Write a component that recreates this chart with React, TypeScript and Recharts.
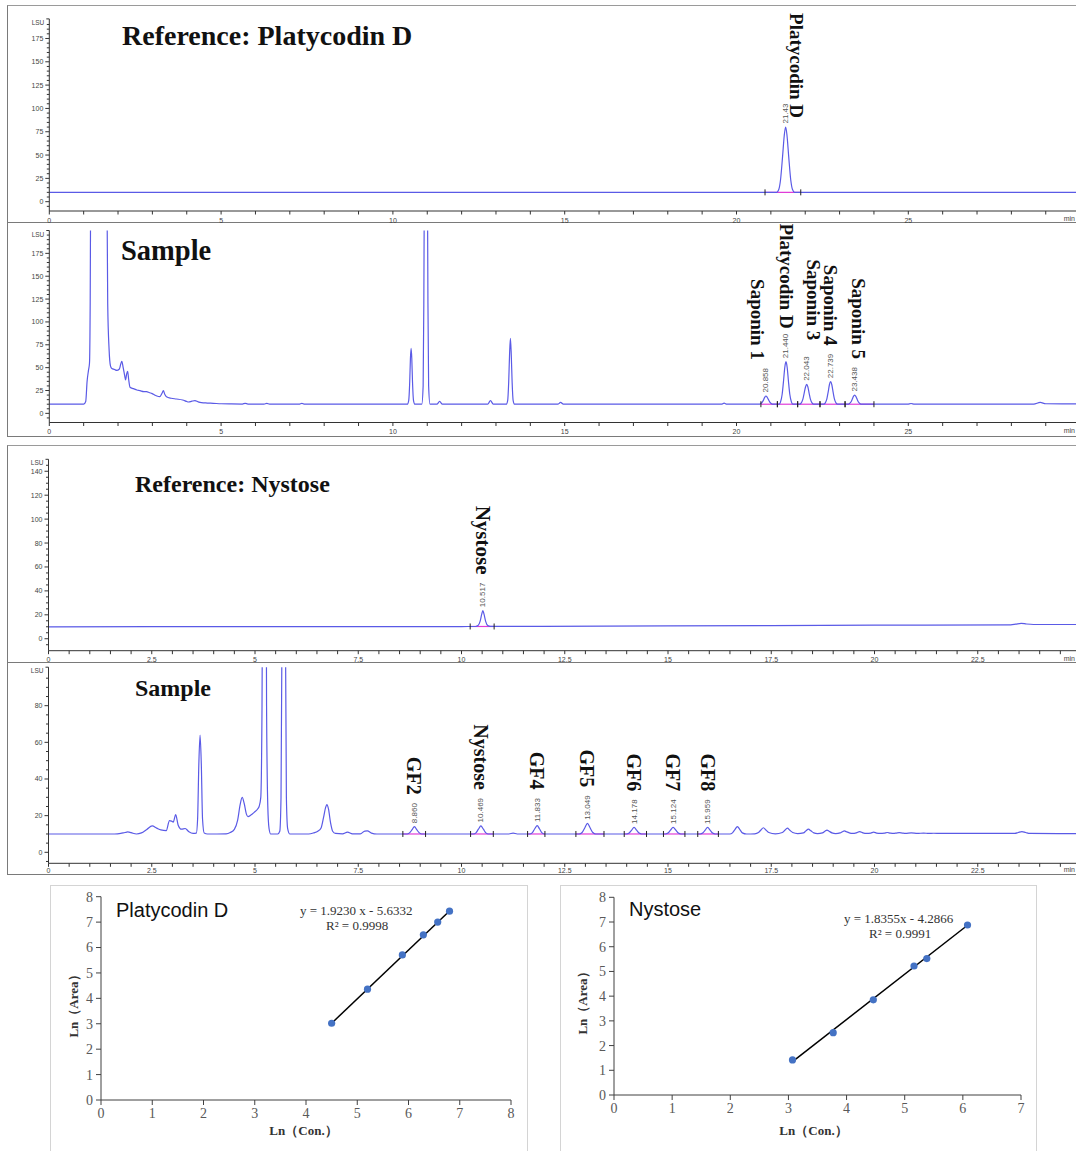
import React from 'react';
import {
  LineChart,
  Line,
  XAxis,
  YAxis,
  ReferenceLine,
  ReferenceDot,
  ScatterChart,
  Scatter,
} from 'recharts';

type Pt = [number, number];
type Seg = [number, number, number];

const TRACE = '#5a5ae6';
const PINK = '#e03cd8';
const AXIS = '#333333';
const SANS = '"Liberation Sans", Arial, sans-serif';
const SERIF = '"Liberation Serif", "Times New Roman", serif';

// ---------------- Panel A: Reference Platycodin D ----------------
const pdRefTrace: Pt[] = [
  [0, 10], [21.17, 10], [21.23, 13], [21.28, 23], [21.34, 48], [21.39, 71], [21.43, 80],
  [21.47, 71], [21.52, 48], [21.58, 23], [21.63, 13], [21.69, 10], [30, 10],
];
const pdRefRt = ['21.43'];
const pdRefApex = [80];
const pdRefNames = ['Platycodin D'];
const pdRefBaselines: Seg[] = [[20.83, 21.87, 10]];

// ---------------- Panel B: Sample (saponins) ----------------
const pdSampleTrace: Pt[] = [
  [0, 10], [1.0, 10], [1.06, 13], [1.1, 35], [1.14, 47], [1.17, 55], [1.19, 120], [1.21, 300],
  [1.45, 900], [1.67, 300], [1.7, 120], [1.74, 70], [1.78, 52], [1.82, 49], [1.9, 48], [1.96, 47],
  [2.04, 48.5], [2.08, 54], [2.11, 57], [2.15, 50], [2.19, 42], [2.22, 36.5], [2.25, 43], [2.28, 46],
  [2.31, 37], [2.35, 28.5], [2.45, 27], [2.55, 25.5], [2.64, 24.8], [2.75, 23.8], [2.83, 23.7],
  [2.92, 22.5], [2.98, 21.9], [3.1, 19.5], [3.22, 18.2], [3.28, 22], [3.32, 24.8], [3.36, 21],
  [3.41, 18.2], [3.55, 16.5], [3.7, 15.7], [3.88, 14.6], [4.0, 13], [4.05, 12.4], [4.15, 13.3],
  [4.24, 13.9], [4.33, 12.6], [4.43, 11.7], [4.6, 11.3], [4.77, 11], [5.0, 10.5], [5.3, 10.3],
  [5.62, 10.2], [5.7, 11], [5.78, 10.2], [6.25, 10.1], [6.33, 11], [6.41, 10.1], [7.27, 10],
  [7.35, 11], [7.43, 10], [10.42, 10], [10.46, 14], [10.49, 35], [10.51, 60], [10.53, 71],
  [10.55, 60], [10.57, 35], [10.6, 14], [10.64, 10], [10.84, 10], [10.88, 30], [10.9, 120],
  [10.92, 300], [10.96, 600], [11.0, 300], [11.02, 120], [11.04, 30], [11.08, 10], [11.28, 10],
  [11.36, 13], [11.44, 10], [12.76, 10], [12.84, 14], [12.92, 10], [13.3, 10], [13.34, 14],
  [13.37, 34], [13.395, 64], [13.42, 82], [13.445, 64], [13.47, 34], [13.5, 14], [13.54, 10],
  [14.8, 10], [14.88, 12], [14.96, 10], [19.56, 10], [19.64, 11.2], [19.72, 10],
  [20.66, 10], [20.7, 10.5], [20.75, 12.2], [20.79, 15], [20.825, 17.8], [20.858, 19], [20.89, 17.8],
  [20.93, 15], [20.97, 12.2], [21.02, 10.5], [21.06, 10],
  [21.24, 10], [21.28, 12.3], [21.33, 21.2], [21.37, 36], [21.405, 50.2], [21.44, 56.5],
  [21.475, 50.2], [21.51, 36], [21.55, 21.2], [21.6, 12.3], [21.64, 10],
  [21.84, 10], [21.88, 11.1], [21.93, 15.2], [21.97, 22.2], [22.008, 28.8], [22.043, 31.7],
  [22.078, 28.8], [22.113, 22.2], [22.153, 15.2], [22.203, 11.1], [22.243, 10],
  [22.54, 10], [22.58, 11.2], [22.63, 15.9], [22.67, 23.8], [22.704, 31.3], [22.739, 34.6],
  [22.774, 31.3], [22.809, 23.8], [22.849, 15.9], [22.899, 11.2], [22.94, 10],
  [23.24, 10], [23.28, 10.5], [23.33, 12.4], [23.37, 15.6], [23.403, 18.6], [23.438, 20],
  [23.473, 18.6], [23.508, 15.6], [23.548, 12.4], [23.598, 10.5], [23.64, 10],
  [24.98, 10], [25.08, 10.8], [25.18, 10], [28.65, 10.2], [28.84, 12], [29.0, 10.5], [30, 10.4],
];
const pdSampleRt = ['20.858', '21.440', '22.043', '22.739', '23.438'];
const pdSampleApex = [19, 56.5, 31.7, 34.6, 20];
const pdSampleNames = ['Saponin 1', 'Platycodin D', 'Saponin 3', 'Saponin 4', 'Saponin 5'];
const pdSampleBaselines: Seg[] = [
  [20.71, 21.19, 10], [21.19, 21.78, 10], [21.78, 22.43, 10], [22.43, 23.16, 10], [23.16, 24.0, 10],
];

// ---------------- Panel C: Reference Nystose ----------------
const nyRefTrace: Pt[] = [
  [0, 10], [5, 10.1], [10, 10.2], [10.34, 10.25], [10.4, 11], [10.45, 14.5], [10.49, 20.5],
  [10.517, 23.5], [10.545, 20.5], [10.585, 14.5], [10.635, 11], [10.7, 10.3], [15, 10.7],
  [20, 11.3], [23.3, 11.6], [23.42, 12.2], [23.55, 12.9], [23.68, 12.3], [23.85, 11.9], [25, 11.9],
];
const nyRefRt = ['10.517'];
const nyRefApex = [23.5];
const nyRefNames = ['Nystose'];
const nyRefBaselines: Seg[] = [[10.21, 10.79, 10.25]];

// ---------------- Panel D: Sample (fructo-oligosaccharides) ----------------
const nySampleTrace: Pt[] = [
  [0, 10], [1.6, 10], [1.75, 10.3], [1.85, 10.8], [1.92, 11.1], [2.0, 10.7], [2.13, 10],
  [2.25, 10.6], [2.38, 12.5], [2.51, 14.4], [2.62, 13.2], [2.72, 12.2], [2.85, 11.8], [2.93, 17.3],
  [2.98, 17], [3.02, 16.5], [3.08, 20.6], [3.14, 14.8], [3.22, 12.6], [3.31, 13], [3.4, 11.2],
  [3.5, 10.3], [3.58, 10.5], [3.61, 18], [3.64, 48], [3.67, 64], [3.7, 48], [3.73, 18], [3.77, 10.5],
  [3.85, 10], [4.3, 10.1], [4.4, 10.8], [4.5, 12.5], [4.58, 17.5], [4.64, 26], [4.69, 30], [4.74, 26.5],
  [4.79, 21], [4.83, 19.5], [4.9, 20.3], [4.98, 21.8], [5.06, 23.5], [5.1, 25], [5.14, 30], [5.17, 80],
  [5.2, 250], [5.23, 400], [5.26, 250], [5.28, 80], [5.31, 25], [5.34, 13], [5.38, 10], [5.55, 10],
  [5.6, 11.5], [5.63, 30], [5.66, 150], [5.7, 400], [5.73, 150], [5.76, 30], [5.79, 13], [5.84, 10],
  [6.3, 10], [6.42, 10.6], [6.52, 11.5], [6.6, 13.3], [6.66, 19], [6.71, 24.5], [6.74, 26], [6.78, 23.5],
  [6.83, 16], [6.88, 11.5], [6.95, 10.3], [7.12, 10.1], [7.24, 11], [7.36, 10.1], [7.55, 10.1],
  [7.66, 11.6], [7.72, 11.7], [7.82, 10.5], [7.95, 10],
  [8.68, 10], [8.74, 10.6], [8.8, 12.2], [8.86, 14], [8.92, 12.2], [8.98, 10.6], [9.04, 10],
  [10.29, 10], [10.35, 10.6], [10.41, 12.6], [10.469, 14.4], [10.53, 12.6], [10.59, 10.6], [10.65, 10],
  [11.15, 10], [11.25, 10.5], [11.35, 10],
  [11.65, 10], [11.71, 10.6], [11.77, 12.7], [11.833, 14.6], [11.89, 12.7], [11.95, 10.6], [12.01, 10],
  [12.85, 10], [12.92, 10.8], [12.99, 13.5], [13.049, 15.8], [13.11, 13.5], [13.18, 10.8], [13.25, 10],
  [14.0, 10], [14.06, 10.5], [14.12, 12.1], [14.178, 13.6], [14.24, 12.1], [14.3, 10.5], [14.36, 10],
  [14.94, 10], [15.0, 10.5], [15.06, 12.1], [15.124, 13.6], [15.19, 12.1], [15.25, 10.5], [15.31, 10],
  [15.78, 10], [15.84, 10.5], [15.9, 12.1], [15.959, 13.6], [16.02, 12.1], [16.08, 10.5], [16.14, 10],
  [16.5, 10], [16.56, 10.6], [16.62, 12.4], [16.68, 14], [16.74, 12.4], [16.8, 10.6], [16.9, 10],
  [17.1, 10.1], [17.19, 10.8], [17.25, 12.2], [17.31, 13.4], [17.37, 12.2], [17.44, 10.8], [17.6, 10.1],
  [17.77, 10.8], [17.83, 12], [17.89, 13.2], [17.95, 12], [18.02, 10.8], [18.14, 10.2],
  [18.28, 10.6], [18.34, 11.7], [18.4, 12.6], [18.46, 11.7], [18.53, 10.6], [18.62, 10.2],
  [18.74, 10.6], [18.8, 11.5], [18.85, 12.1], [18.9, 11.5], [18.97, 10.6], [19.06, 10.2],
  [19.17, 10.6], [19.22, 11.2], [19.27, 11.7], [19.32, 11.2], [19.39, 10.6], [19.46, 10.3],
  [19.56, 10.6], [19.64, 11.3], [19.72, 10.6], [19.81, 10.3], [19.91, 10.5], [19.98, 11],
  [20.05, 10.5], [20.14, 10.3], [20.24, 10.5], [20.31, 10.8], [20.38, 10.5], [20.46, 10.3],
  [20.53, 10.5], [20.6, 10.7], [20.67, 10.5], [20.75, 10.3], [20.89, 10.6], [21.04, 10.3],
  [21.19, 10.5], [21.31, 10.3], [21.43, 10.4], [21.6, 10.3], [23.4, 10.3], [23.48, 10.8],
  [23.57, 11.3], [23.66, 10.8], [23.76, 10.3], [25, 10.2],
];
const nySampleRt = ['8.860', '10.469', '11.833', '13.049', '14.178', '15.124', '15.959'];
const nySampleApex = [14, 14.4, 14.6, 15.8, 13.6, 13.6, 13.6];
const nySampleNames = ['GF2', 'Nystose', 'GF4', 'GF5', 'GF6', 'GF7', 'GF8'];
const nySampleBaselines: Seg[] = [
  [8.58, 9.13, 10], [10.22, 10.77, 10], [11.6, 12.02, 10], [12.77, 13.45, 10],
  [13.94, 14.48, 10], [14.89, 15.41, 10], [15.72, 16.22, 10],
];

// ---------------- Axis ticks ----------------
const minuteTicks30 = Array.from({ length: 31 }, (_, i) => i);
const minuteLabels30 = [0, 5, 10, 15, 20, 25];
const minuteTicks25 = Array.from({ length: 51 }, (_, i) => i * 0.5);
const minuteLabels25 = [0, 2.5, 5, 7.5, 10, 12.5, 15, 17.5, 20, 22.5];
const lsuTicksA = [...Array.from({ length: 40 }, (_, i) => -5 + i * 5), 196];
const lsuTicksB = [...Array.from({ length: 41 }, (_, i) => -5 + i * 5), 200];
const lsuLabelsAB = [0, 25, 50, 75, 100, 125, 150, 175];
const lsuTicksC = [...Array.from({ length: 31 }, (_, i) => -5 + i * 5), 150];
const lsuLabelsC = [0, 20, 40, 60, 80, 100, 120, 140];
const lsuTicksD = [...Array.from({ length: 21 }, (_, i) => -5 + i * 5), 101];
const lsuLabelsD = [0, 20, 40, 60, 80];

// ---------------- Calibration curves ----------------
const pdLnCon = [4.5, 5.2, 5.88, 6.29, 6.57, 6.8];
const pdLnArea = [3.02, 4.36, 5.71, 6.5, 7.0, 7.43];
const pdFit: Pt[] = [[4.5, 3.02], [6.8, 7.44]];
const nyLnCon = [3.07, 3.77, 4.46, 5.16, 5.38, 6.08];
const nyLnArea = [1.42, 2.52, 3.85, 5.22, 5.52, 6.88];
const nyFit: Pt[] = [[3.07, 1.35], [6.08, 6.87]];
const calibTicks8 = [0, 1, 2, 3, 4, 5, 6, 7, 8];
const calibTicks7 = [0, 1, 2, 3, 4, 5, 6, 7];

// ---------------- helpers ----------------
const rows = (pts: Pt[]) => pts.map(([t, v]) => ({ t, v }));

function makeXTick(majors: number[], labelDy: number) {
  return (props: any) => {
    const { x, y, payload } = props;
    const v = payload.value as number;
    const major = majors.some((m) => Math.abs(m - v) < 1e-6);
    return (
      <g>
        <line x1={x} x2={x} y1={y} y2={y + 3.5} stroke={AXIS} strokeWidth={1} />
        {major && (
          <text x={x} y={y + labelDy} textAnchor="middle" fontSize={7} fill="#444" fontFamily={SANS}>
            {String(v)}
          </text>
        )}
      </g>
    );
  };
}

function makeYTick(majors: number[], top: number) {
  return (props: any) => {
    const { x, y, payload } = props;
    const v = payload.value as number;
    if (v === top) {
      return (
        <g>
          <line x1={x - 3} x2={x} y1={y} y2={y} stroke={AXIS} strokeWidth={1} />
          <text x={x - 5} y={y + 6} textAnchor="end" fontSize={6.5} fill="#444" fontFamily={SANS}>
            LSU
          </text>
        </g>
      );
    }
    const major = majors.includes(v);
    return (
      <g>
        <line x1={x - (major ? 4 : 2.5)} x2={x} y1={y} y2={y} stroke={AXIS} strokeWidth={1} />
        {major && (
          <text x={x - 6} y={y + 2.5} textAnchor="end" fontSize={7} fill="#444" fontFamily={SANS}>
            {v}
          </text>
        )}
      </g>
    );
  };
}

function makePeakLabel(rt: string, name: string, size: number, dx: number, dy: number) {
  return (props: any) => {
    const { cx, cy } = props;
    const rtY = cy - 3.5;
    const nameY = rtY - rt.length * 4.1 - 8 + dy;
    return (
      <g>
        <text
          transform={`translate(${cx},${rtY}) rotate(-90)`}
          fontSize={8}
          fill="#555"
          fontFamily={SANS}
          dominantBaseline="central"
        >
          {rt}
        </text>
        <text
          transform={`translate(${cx + dx},${nameY}) rotate(90)`}
          textAnchor="end"
          dominantBaseline="central"
          fontSize={size}
          fontWeight="bold"
          fill="#111"
          fontFamily={SERIF}
        >
          {name}
        </text>
      </g>
    );
  };
}

const baselineTick = (props: any) => (
  <line x1={props.cx} x2={props.cx} y1={props.cy - 3} y2={props.cy + 3} stroke="#222" strokeWidth={1} />
);

type ChromProps = {
  top: number;
  height: number;
  margin: { top: number; right: number; bottom: number; left: number };
  xMax: number;
  xTicks: number[];
  xLabels: number[];
  xAxisHeight: number;
  labelDy: number;
  yDomain: [number, number];
  yTicks: number[];
  yLabels: number[];
  trace: Pt[];
  rts: string[];
  apexes: number[];
  names: string[];
  nameSize: number;
  nudges?: Record<string, [number, number]>;
  baselines: Seg[];
};

function Chromatogram(p: ChromProps) {
  const data = rows(p.trace);
  return (
    <div style={{ position: 'absolute', left: 0, top: p.top }}>
      <LineChart width={1090} height={p.height} data={data} margin={p.margin} style={{ overflow: 'visible' }}>
        <XAxis
          dataKey="t"
          type="number"
          domain={[0, p.xMax]}
          allowDataOverflow
          ticks={p.xTicks}
          interval={0}
          tickLine={false}
          tickSize={0}
          tickMargin={0}
          height={p.xAxisHeight}
          stroke={AXIS}
          tick={makeXTick(p.xLabels, p.labelDy)}
        />
        <YAxis
          type="number"
          domain={p.yDomain}
          allowDataOverflow
          ticks={p.yTicks}
          interval={0}
          tickLine={false}
          tickSize={0}
          tickMargin={0}
          width={40}
          stroke={AXIS}
          tick={makeYTick(p.yLabels, p.yDomain[1])}
        />
        {p.baselines.map(([a, b, l], i) => (
          <ReferenceLine
            key={`bl${i}`}
            segment={[{ x: a, y: l }, { x: b, y: l }]}
            stroke={PINK}
            strokeWidth={1.2}
            ifOverflow="visible"
          />
        ))}
        <Line
          dataKey="v"
          type="monotone"
          dot={false}
          stroke={TRACE}
          strokeWidth={1.2}
          isAnimationActive={false}
        />
        {p.baselines.map(([a, b, l], i) => (
          <ReferenceDot key={`ta${i}`} x={a} y={l} r={0} shape={baselineTick} ifOverflow="visible" />
        ))}
        {p.baselines.map(([a, b, l], i) => (
          <ReferenceDot key={`tb${i}`} x={b} y={l} r={0} shape={baselineTick} ifOverflow="visible" />
        ))}
        {p.rts.map((rt, i) => {
          const n = (p.nudges && p.nudges[p.names[i]]) || [0, 0];
          return (
            <ReferenceDot
              key={`pk${i}`}
              x={parseFloat(rt)}
              y={p.apexes[i]}
              r={0}
              ifOverflow="visible"
              shape={makePeakLabel(rt, p.names[i], p.nameSize, n[0], n[1])}
            />
          );
        })}
      </LineChart>
    </div>
  );
}

const calibDot = (props: any) => <circle cx={props.cx} cy={props.cy} r={3.6} fill="#4472C4" />;

type CalibProps = {
  left: number;
  width: number;
  margin: { top: number; right: number; bottom: number; left: number };
  xMax: number;
  xTicks: number[];
  xs: number[];
  ys: number[];
  fit: Pt[];
};

function Calibration(p: CalibProps) {
  const pts = p.xs.map((x, i) => ({ x, y: p.ys[i] }));
  const tickStyle = { fontSize: 14, fill: '#595959', fontFamily: SERIF };
  return (
    <div style={{ position: 'absolute', left: p.left, top: 885 }}>
      <ScatterChart width={p.width} height={266} margin={p.margin}>
        <XAxis
          type="number"
          dataKey="x"
          domain={[0, p.xMax]}
          ticks={p.xTicks}
          interval={0}
          tick={tickStyle}
          tickSize={5}
          tickMargin={3}
          stroke="#404040"
          height={30}
        />
        <YAxis
          type="number"
          dataKey="y"
          domain={[0, 8]}
          ticks={calibTicks8}
          interval={0}
          tick={tickStyle}
          tickSize={5}
          tickMargin={3}
          stroke="#404040"
          width={30}
        />
        <ReferenceLine
          segment={[{ x: p.fit[0][0], y: p.fit[0][1] }, { x: p.fit[1][0], y: p.fit[1][1] }]}
          stroke="#000"
          strokeWidth={1.5}
          ifOverflow="visible"
        />
        <Scatter data={pts} shape={calibDot} isAnimationActive={false} />
      </ScatterChart>
    </div>
  );
}

const frame = (extra: React.CSSProperties): React.CSSProperties => ({
  position: 'absolute',
  boxSizing: 'border-box',
  ...extra,
});

export default function App() {
  const sideLine = '1.5px solid #7a7a7a';
  return (
    <div
      style={{
        position: 'absolute',
        left: 0,
        top: 0,
        width: 1076,
        height: 1151,
        overflow: 'hidden',
        background: '#fff',
      }}
    >
      {/* panel frames */}
      <div style={frame({ left: 7, top: 5, width: 1080, height: 218, borderTop: '1px solid #9a9a9a', borderLeft: sideLine, borderBottom: sideLine })} />
      <div style={frame({ left: 7, top: 223, width: 1080, height: 214, borderLeft: sideLine, borderBottom: sideLine })} />
      <div style={frame({ left: 7, top: 445, width: 1080, height: 218, borderTop: '1px solid #9a9a9a', borderLeft: sideLine, borderBottom: sideLine })} />
      <div style={frame({ left: 7, top: 663, width: 1080, height: 212, borderLeft: sideLine, borderBottom: sideLine })} />
      <div style={frame({ left: 50, top: 885, width: 478, height: 290, border: '1px solid #d4d4d4' })} />
      <div style={frame({ left: 560, top: 885, width: 477, height: 290, border: '1px solid #d4d4d4' })} />

      <Chromatogram
        top={0}
        height={225}
        margin={{ top: 18.9, right: 9.9, bottom: 2, left: 9.3 }}
        xMax={30}
        xTicks={minuteTicks30}
        xLabels={minuteLabels30}
        xAxisHeight={12}
        labelDy={11.5}
        yDomain={[-10, 196]}
        yTicks={lsuTicksA}
        yLabels={lsuLabelsAB}
        trace={pdRefTrace}
        rts={pdRefRt}
        apexes={pdRefApex}
        names={pdRefNames}
        nameSize={19}
        nudges={{ 'Platycodin D': [10.5, 23] }}
        baselines={pdRefBaselines}
      />
      <Chromatogram
        top={224}
        height={213}
        margin={{ top: 6.5, right: 9.9, bottom: 2.5, left: 9.3 }}
        xMax={30}
        xTicks={minuteTicks30}
        xLabels={minuteLabels30}
        xAxisHeight={12}
        labelDy={11.5}
        yDomain={[-10, 200]}
        yTicks={lsuTicksB}
        yLabels={lsuLabelsAB}
        trace={pdSampleTrace}
        rts={pdSampleRt}
        apexes={pdSampleApex}
        names={pdSampleNames}
        nameSize={19}
        nudges={{
          'Saponin 1': [-8, 0],
          'Platycodin D': [0.5, 3],
          'Saponin 3': [7, -8],
          'Saponin 5': [4, 0],
        }}
        baselines={pdSampleBaselines}
      />
      <Chromatogram
        top={445}
        height={217}
        margin={{ top: 14.3, right: 9, bottom: 2.3, left: 8.5 }}
        xMax={25}
        xTicks={minuteTicks25}
        xLabels={minuteLabels25}
        xAxisHeight={9}
        labelDy={11.5}
        yDomain={[-10, 150]}
        yTicks={lsuTicksC}
        yLabels={lsuLabelsC}
        trace={nyRefTrace}
        rts={nyRefRt}
        apexes={nyRefApex}
        names={nyRefNames}
        nameSize={21}
        baselines={nyRefBaselines}
      />
      <Chromatogram
        top={663}
        height={211}
        margin={{ top: 4.2, right: 9, bottom: 1.7, left: 8.5 }}
        xMax={25}
        xTicks={minuteTicks25}
        xLabels={minuteLabels25}
        xAxisHeight={9}
        labelDy={10}
        yDomain={[-6, 101]}
        yTicks={lsuTicksD}
        yLabels={lsuLabelsD}
        trace={nySampleTrace}
        rts={nySampleRt}
        apexes={nySampleApex}
        names={nySampleNames}
        nameSize={20}
        baselines={nySampleBaselines}
      />

      <Calibration
        left={50}
        width={478}
        margin={{ top: 11.7, right: 17, bottom: 21, left: 21 }}
        xMax={8}
        xTicks={calibTicks8}
        xs={pdLnCon}
        ys={pdLnArea}
        fit={pdFit}
      />
      <Calibration
        left={560}
        width={477}
        margin={{ top: 12.3, right: 16, bottom: 26, left: 24 }}
        xMax={7}
        xTicks={calibTicks7}
        xs={nyLnCon}
        ys={nyLnArea}
        fit={nyFit}
      />

      {/* overlay texts */}
      <svg
        width={1076}
        height={1151}
        style={{ position: 'absolute', left: 0, top: 0, pointerEvents: 'none' }}
      >
        <g fontFamily={SERIF} fontWeight="bold" fill="#111">
          <text x={122} y={45} fontSize={28}>Reference: Platycodin D</text>
          <text x={121} y={260} fontSize={28.5}>Sample</text>
          <text x={135} y={491.5} fontSize={24}>Reference: Nystose</text>
          <text x={135} y={696} fontSize={24}>Sample</text>
        </g>
        <g fontFamily={SANS} fontSize={7} fill="#444" textAnchor="end">
          <text x={1075} y={221}>min</text>
          <text x={1075} y={433}>min</text>
          <text x={1075} y={661}>min</text>
          <text x={1075} y={872}>min</text>
        </g>
        <g fontFamily={SANS} fill="#111" fontSize={20}>
          <text x={116} y={916.5}>Platycodin D</text>
          <text x={629} y={915.5}>Nystose</text>
        </g>
        <g fontFamily={SERIF} fill="#333" fontSize={13}>
          <text x={300} y={914.5}>y = 1.9230 x - 5.6332</text>
          <text x={326} y={930}>R² = 0.9998</text>
          <text x={844} y={923}>y = 1.8355x - 4.2866</text>
          <text x={869} y={938}>R² = 0.9991</text>
        </g>
        <g fontFamily={SERIF} fill="#333" fontSize={13} fontWeight="bold">
          <text transform="translate(77.5,1003) rotate(-90)" textAnchor="middle">Ln（Area）</text>
          <text transform="translate(587,1000) rotate(-90)" textAnchor="middle">Ln（Area）</text>
          <text x={303.5} y={1134.5} textAnchor="middle">Ln（Con.）</text>
          <text x={813.5} y={1134.5} textAnchor="middle">Ln（Con.）</text>
        </g>
      </svg>
    </div>
  );
}
